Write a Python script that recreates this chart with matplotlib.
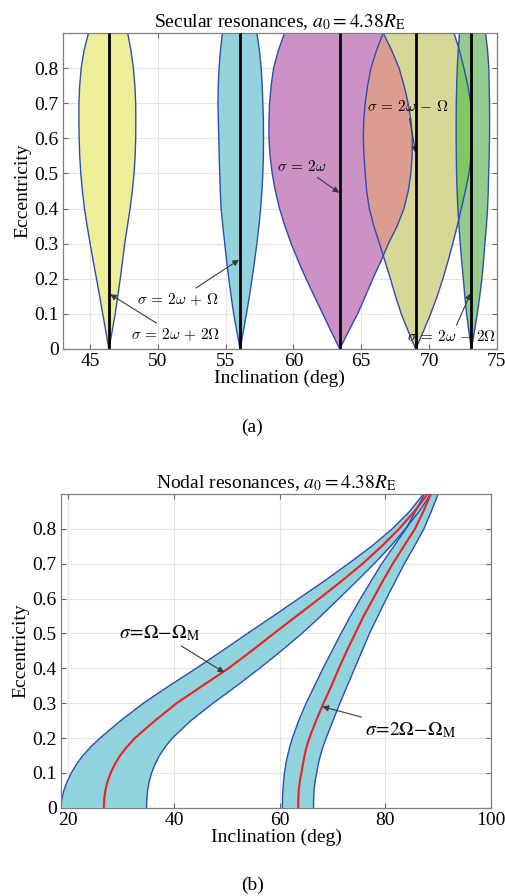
import matplotlib
matplotlib.use("Agg")
import matplotlib.pyplot as plt
import numpy as np
from matplotlib.ticker import FuncFormatter

plt.rcParams.update({
    "font.family": "Liberation Serif", "font.size": 14,
    "mathtext.fontset": "stix",
    "axes.edgecolor": "#7f7f7f", "axes.linewidth": 0.9, "axes.axisbelow": True,
    "xtick.direction": "in", "ytick.direction": "in",
    "xtick.top": True, "ytick.right": True,
    "xtick.color": "#666666", "ytick.color": "#666666",
    "xtick.labelcolor": "black", "ytick.labelcolor": "black",
    "xtick.major.size": 3.5, "ytick.major.size": 3.5,
    "xtick.major.pad": 3, "ytick.major.pad": 3,
})

EDGE, GRIDC = "#2f4cb0", "#e4e4e4"

# ---------------- (a) secular resonances: lens edges (deg) vs eccentricity ----------------
ecc_a = [0.0, 0.05, 0.1, 0.15, 0.2, 0.25, 0.3, 0.35, 0.4, 0.45,
         0.5, 0.55, 0.6, 0.65, 0.7, 0.75, 0.8, 0.85, 0.9]
yel_left = [46.38, 46.16, 45.93, 45.70, 45.47, 45.23, 45.00, 44.78, 44.58, 44.43,
            44.31, 44.23, 44.19, 44.17, 44.17, 44.23, 44.34, 44.55, 44.88]
yel_right = [46.38, 46.62, 46.85, 47.04, 47.22, 47.39, 47.55, 47.75, 47.95, 48.11,
             48.24, 48.32, 48.36, 48.37, 48.36, 48.30, 48.19, 48.01, 47.77]
cya_left = [56.06, 55.82, 55.59, 55.40, 55.23, 55.07, 54.93, 54.79, 54.66, 54.60,
            54.56, 54.52, 54.49, 54.46, 54.43, 54.45, 54.51, 54.61, 54.76]
cya_right = [56.06, 56.30, 56.53, 56.75, 56.94, 57.13, 57.30, 57.45, 57.58, 57.67,
             57.74, 57.78, 57.79, 57.78, 57.74, 57.69, 57.62, 57.49, 57.30]
mag_left = [63.41, 62.78, 62.16, 61.54, 60.93, 60.36, 59.83, 59.37, 58.97, 58.66,
            58.43, 58.27, 58.19, 58.19, 58.24, 58.35, 58.53, 58.88, 59.34]
mag_right = [63.41, 64.06, 64.73, 65.30, 65.85, 66.45, 67.00, 67.65, 68.15, 68.47,
             68.66, 68.75, 68.77, 68.67, 68.46, 68.16, 67.79, 67.25, 66.62]
oli_left = [69.02, 68.47, 67.95, 67.53, 67.15, 66.75, 66.35, 65.93, 65.59, 65.40,
            65.29, 65.20, 65.15, 65.18, 65.29, 65.47, 65.71, 66.12, 66.62]
oli_right = [69.02, 69.58, 70.12, 70.60, 71.02, 71.40, 71.75, 72.08, 72.38, 72.68,
             72.95, 73.10, 73.19, 73.17, 73.07, 72.87, 72.57, 72.25, 71.84]
grn_left = [73.12, 72.94, 72.77, 72.64, 72.53, 72.41, 72.30, 72.21, 72.13, 72.07,
            72.03, 72.01, 72.00, 72.00, 72.01, 72.04, 72.08, 72.15, 72.25]
grn_right = [73.12, 73.35, 73.56, 73.74, 73.90, 74.02, 74.12, 74.23, 74.32, 74.37,
             74.40, 74.44, 74.46, 74.47, 74.46, 74.44, 74.41, 74.32, 74.17]
centres_a = [46.38, 56.06, 63.43, 69.02, 73.13]

# ---------------- (b) nodal resonances: band edges (deg) vs eccentricity ----------------
ecc_b = [0.0, 0.025, 0.05, 0.075, 0.1, 0.125, 0.15, 0.175, 0.2, 0.25, 0.3, 0.35,
         0.4, 0.45, 0.5, 0.55, 0.6, 0.65, 0.7, 0.75, 0.8, 0.85, 0.9]
n1_left = [18.6, 18.75, 19.15, 19.75, 20.55, 21.55, 22.75, 24.25, 26.0, 29.9, 34.2, 39.1,
           44.2, 49.1, 53.9, 58.8, 63.6, 68.4, 73.0, 77.4, 81.3, 84.6, 87.2]
n1_mid = [26.7, 26.78, 27.0, 27.4, 28.0, 28.8, 29.8, 31.1, 32.6, 36.4, 40.5, 45.4,
          50.3, 54.7, 58.9, 63.2, 67.5, 71.7, 75.7, 79.3, 82.6, 85.5, 88.0]
n1_right = [34.8, 34.85, 35.0, 35.3, 35.75, 36.4, 37.25, 38.35, 39.7, 43.2, 47.4, 51.9,
            56.2, 60.3, 64.2, 67.8, 71.2, 74.6, 77.9, 81.0, 83.8, 86.4, 88.6]
n2_left = [60.5, 60.52, 60.6, 60.72, 60.9, 61.15, 61.5, 61.9, 62.4, 63.6, 65.0, 66.6,
           68.2, 69.9, 71.6, 73.4, 75.3, 77.3, 79.3, 81.6, 83.9, 85.7, 87.4]
n2_mid = [63.5, 63.52, 63.6, 63.8, 64.1, 64.4, 64.7, 65.1, 65.6, 66.9, 68.3, 69.8,
          71.2, 72.7, 74.3, 75.9, 77.7, 79.5, 81.4, 83.5, 85.6, 87.2, 88.6]
n2_right = [66.4, 66.42, 66.5, 66.7, 67.0, 67.3, 67.7, 68.2, 68.8, 70.1, 71.4, 72.8,
            74.2, 75.6, 77.0, 78.6, 80.2, 81.9, 83.6, 85.5, 87.3, 88.7, 90.0]


def style(ax):
    ax.grid(True, color=GRIDC, lw=0.8)
    ax.yaxis.set_major_formatter(FuncFormatter(lambda v, p: f"{v:g}"))
    ax.set_ylabel("Eccentricity", labelpad=2)
    ax.set_xlabel("Inclination (deg)", labelpad=0)


def lens(ax, left, right, ecc, color):
    xs = list(left) + list(right)[::-1]
    ys = list(ecc) + list(ecc)[::-1]
    return ax.fill(xs, ys, color=color, lw=0, zorder=1)[0]


fig = plt.figure(figsize=(5.05, 8.96), dpi=100)

# ----- panel (a)
ax = fig.add_axes([0.1248, 0.6105, 0.859, 0.3527])
lens(ax, yel_left, yel_right, ecc_a, "#eeee98")
lens(ax, cya_left, cya_right, ecc_a, "#93d4dc")
pm = lens(ax, mag_left, mag_right, ecc_a, "#cc92c6")
po = lens(ax, oli_left, oli_right, ecc_a, "#d7d797")
lens(ax, grn_left, grn_right, ecc_a, "#93cc8e")
# overlapping parts
lens(ax, oli_left, oli_right, ecc_a, "#dc9c90").set_clip_path(pm)
lens(ax, grn_left, grn_right, ecc_a, "#80c862").set_clip_path(po)
for l, r in [(yel_left, yel_right), (cya_left, cya_right), (mag_left, mag_right),
             (oli_left, oli_right), (grn_left, grn_right)]:
    ax.plot(l, ecc_a, color=EDGE, lw=1.0, zorder=2)
    ax.plot(r, ecc_a, color=EDGE, lw=1.0, zorder=2)
ax.vlines(centres_a, ecc_a[0], ecc_a[-1], color="black", lw=2.0, zorder=4)

arrow = dict(arrowstyle="-|>", color="#3a3a3a", lw=0.8, mutation_scale=9,
             shrinkA=1, shrinkB=0)
notes_a = [
    (r"$\sigma\,=\,2\omega\,+\,2\Omega$", (46.47, 0.156), (51.3, 0.04)),
    (r"$\sigma\,=\,2\omega\,+\,\Omega$", (55.98, 0.254), (51.47, 0.14)),
    (r"$\sigma\,=\,2\omega$", (63.38, 0.445), (60.6, 0.52)),
    (r"$\sigma\,=\,2\omega\,-\,\Omega$", (69.02, 0.559), (68.4, 0.69)),
    (r"$\sigma\,=\,2\omega\,-\,2\Omega$", (73.07, 0.159), (71.65, 0.035)),
]
for txt, xy, xyt in notes_a:
    ax.annotate(txt, xy=xy, xytext=xyt, ha="center", va="center", fontsize=11,
                math_fontfamily="cm", arrowprops=arrow, zorder=3)
ax.set_xlim(43, 75)
ax.set_ylim(0, 0.9)
ax.set_xticks(np.arange(45, 76, 5))
ax.set_yticks(np.round(np.arange(0, 0.81, 0.1), 1))
style(ax)
ax.set_title(r"Secular resonances, $a_0 = 4.38R_{\mathrm{E}}$", fontsize=14, pad=4)
fig.text(0.5, 1 - 427 / 896, "(a)", ha="center", va="center", fontsize=14)

# ----- panel (b)
ax = fig.add_axes([0.1208, 0.0985, 0.8515, 0.3502])
lens(ax, n1_left, n1_right, ecc_b, "#90d3dd")
lens(ax, n2_left, n2_right, ecc_b, "#90d3dd")
for l, m, r in [(n1_left, n1_mid, n1_right), (n2_left, n2_mid, n2_right)]:
    ax.plot(l, ecc_b, color=EDGE, lw=1.0, zorder=2)
    ax.plot(r, ecc_b, color=EDGE, lw=1.0, zorder=2)
    ax.plot(m, ecc_b, color="#f21d1d", lw=1.5, zorder=3)
notes_b = [
    (r"$\sigma\!=\!\Omega\!-\!\Omega_{\mathrm{M}}$", (49.5, 0.388), (37.3, 0.502)),
    (r"$\sigma\!=\!2\Omega\!-\!\Omega_{\mathrm{M}}$", (68.07, 0.29), (84.7, 0.223)),
]
for txt, xy, xyt in notes_b:
    ax.annotate(txt, xy=xy, xytext=xyt, ha="center", va="center", fontsize=14,
                arrowprops=arrow, zorder=4)
ax.set_xlim(18.6, 100)
ax.set_ylim(0, 0.9)
ax.set_xticks([20, 40, 60, 80, 100])
ax.set_yticks(np.round(np.arange(0, 0.81, 0.1), 1))
style(ax)
ax.set_title(r"Nodal resonances, $a_0 = 4.38R_{\mathrm{E}}$", fontsize=14, pad=4)
fig.text(0.5, 1 - 885 / 896, "(b)", ha="center", va="center", fontsize=14)

fig.savefig("out.png", dpi=100)
